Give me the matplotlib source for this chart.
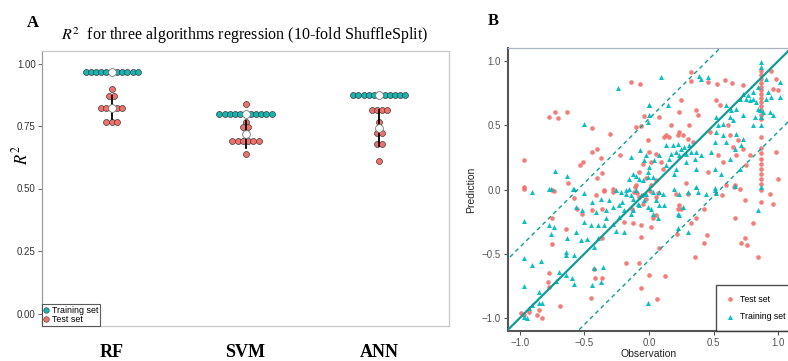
import numpy as np
import matplotlib

matplotlib.use("Agg")
import matplotlib.pyplot as plt
from matplotlib.lines import Line2D

plt.rcParams["font.family"] = ["Liberation Sans", "DejaVu Sans"]
plt.rcParams["mathtext.fontset"] = "stix"

# ---- panel A: R^2 per fold (dot plot) ----
algorithms = ["RF", "SVM", "ANN"]
rf_train = [0.965, 0.965, 0.965, 0.965, 0.965, 0.965, 0.965, 0.965, 0.965, 0.965, 0.965]
rf_test = [0.90, 0.87, 0.87, 0.824, 0.824, 0.824, 0.824, 0.824, 0.766, 0.766, 0.766]
svm_train = [0.797, 0.797, 0.797, 0.797, 0.797, 0.797, 0.797, 0.797, 0.797, 0.797, 0.797]
svm_test = [0.84, 0.766, 0.746, 0.746, 0.69, 0.69, 0.69, 0.69, 0.69, 0.69, 0.64]
ann_train = [0.874, 0.874, 0.874, 0.874, 0.874, 0.874, 0.874, 0.874, 0.874, 0.874, 0.874]
ann_test = [0.813, 0.813, 0.813, 0.813, 0.766, 0.724, 0.724, 0.677, 0.677, 0.609]
r2_ticks = [0.0, 0.25, 0.5, 0.75, 1.0]

# ---- panel B: observation vs prediction ----
test_points = [
    (-0.14, 0.835), (-0.068, 0.817), (-0.773, 0.563), (-0.727, 0.60), (-0.70, 0.556),
    (-0.631, 0.60), (-0.437, 0.478), (-0.303, 0.429), (-0.037, 0.571), (-0.10, 0.486),
    (-0.062, 0.491), (-0.967, 0.228), (-0.437, 0.292), (-0.404, 0.318), (-0.373, 0.248),
    (-0.223, 0.266), (-0.507, 0.215), (-0.535, 0.189), (-0.36, 0.129), (-0.404, 0.091),
    (-0.623, 0.054), (-0.967, 0.016), (-0.747, -0.005), (-0.347, 0.0), (-0.282, 0.003),
    (-0.075, 0.137), (-0.024, 0.093), (-0.101, 0.034), (0.015, 0.215), (-0.05, 0.202),
    (0.321, 0.912), (0.326, 0.843), (0.455, 0.835), (0.525, 0.817), (0.584, 0.848),
    (0.644, 0.827), (0.726, 0.809), (0.946, 0.925), (0.985, 0.86), (0.959, 0.783),
    (0.998, 0.77), (0.546, 0.654), (0.52, 0.693), (0.248, 0.693), (0.08, 0.563),
    (0.235, 0.60), (0.365, 0.615), (0.378, 0.576), (0.171, 0.499), (0.313, 0.499),
    (0.235, 0.447), (0.132, 0.426), (0.158, 0.408), (0.119, 0.408), (0.223, 0.426),
    (0.261, 0.421), (0.30, 0.395), (0.339, 0.37), (0.468, 0.447), (0.61, 0.499),
    (0.623, 0.421), (0.688, 0.383), (0.649, 0.331), (0.726, 0.318), (0.533, 0.266),
    (0.571, 0.215), (0.675, 0.266), (0.778, 0.266), (0.752, 0.189), (0.455, 0.137),
    (0.662, 0.034), (0.597, 0.034), (0.985, 0.292), (0.998, 0.085), (-0.01, 0.383),
    (0.003, 0.292), (0.055, 0.279), (0.093, 0.215), (0.106, 0.163), (0.055, 0.072),
    (0.287, 0.047), (0.016, 0.034),
    (0.862, 0.92), (0.862, 0.89), (0.862, 0.86), (0.862, 0.83), (0.862, 0.80),
    (0.862, 0.77), (0.862, 0.74), (0.862, 0.71), (0.862, 0.68), (0.862, 0.65),
    (0.862, 0.62), (0.862, 0.58), (0.862, 0.55), (0.862, 0.41), (0.862, 0.32),
    (0.862, 0.28), (0.862, 0.24), (0.862, 0.20), (0.862, 0.16), (0.862, 0.12),
    (0.862, 0.08), (0.862, 0.04), (0.862, 0.0),
    (-0.967, 0.007), (-0.734, -0.014), (-0.411, -0.039), (-0.347, -0.014), (-0.579, -0.065),
    (-0.553, -0.148), (-0.52, -0.194), (-0.437, -0.161), (-0.36, -0.153), (-0.282, -0.019),
    (-0.114, -0.019), (-0.075, -0.058), (-0.05, -0.109), (-0.132, -0.148), (-0.752, -0.218),
    (-0.639, -0.308), (-0.192, -0.251), (-0.127, -0.264), (-0.062, -0.277), (-0.062, -0.368),
    (-0.747, -0.424), (-0.36, -0.38), (-0.179, -0.574), (-0.08, -0.574), (-0.424, -0.618),
    (-0.416, -0.69), (-0.36, -0.685), (-0.773, -0.652), (-0.778, -0.722), (-0.773, -0.755),
    (-0.45, -0.84), (-0.688, -0.902), (-0.062, -0.763), (-0.993, -0.957), (-0.967, -0.975),
    (-0.928, -0.949), (-0.851, -0.936), (-0.864, -0.975), (-0.825, -1.0), (-0.09, -0.03),
    (-0.05, -0.04), (-0.02, -0.07), (-0.11, 0.02), (0.01, -0.01),
    (0.067, -0.024), (0.055, -0.058), (0.21, -0.032), (0.30, -0.032), (0.235, -0.122),
    (0.222, -0.148), (0.248, -0.148), (0.055, -0.20), (0.016, -0.29), (0.029, -0.225),
    (0.365, -0.225), (0.326, -0.264), (0.429, -0.148), (0.566, -0.045), (0.662, -0.225),
    (0.739, -0.083), (0.804, -0.264), (0.868, -0.096), (0.933, -0.032), (0.959, -0.114),
    (0.215, -0.349), (0.447, -0.355), (0.429, -0.419), (0.744, -0.38), (0.713, -0.419),
    (0.757, -0.432), (0.08, -0.458), (0.352, -0.528), (0.843, -0.523), (0.003, -0.665),
    (0.124, -0.67), (0.06, -0.851), (0.654, 0.02), (0.70, 0.007),
]
train_points = [
    (-0.236, 0.79), (-0.502, 0.507), (0.002, 0.66), (0.002, 0.58), (-0.727, 0.142),
    (-0.631, 0.103), (-0.584, 0.003), (-0.14, 0.253), (-0.068, 0.305), (-0.024, 0.266),
    (-0.037, 0.227), (-0.127, 0.124), (-0.101, 0.103), (-0.153, 0.085), (-0.075, 0.085),
    (-0.05, 0.072), (-0.011, 0.098), (0.002, 0.176), (0.002, 0.008), (-0.773, 0.003),
    (-0.153, 0.003),
    (0.093, 0.874), (0.39, 0.886), (0.403, 0.86), (0.455, 0.874), (0.868, 0.99),
    (0.868, 0.951), (1.01, 0.835), (1.01, 0.718), (0.907, 0.861), (0.843, 0.796),
    (0.804, 0.757), (0.765, 0.731), (0.726, 0.744), (0.70, 0.706), (0.752, 0.706),
    (0.778, 0.693), (0.804, 0.706), (0.83, 0.68), (0.92, 0.757), (0.946, 0.718),
    (0.907, 0.706), (0.843, 0.628), (0.881, 0.602), (0.933, 0.602), (0.959, 0.576),
    (0.817, 0.563), (0.868, 0.499), (0.726, 0.576), (0.675, 0.628), (0.597, 0.654),
    (0.636, 0.615), (0.623, 0.563), (0.649, 0.537), (0.571, 0.511), (0.52, 0.563),
    (0.533, 0.499), (0.52, 0.447), (0.571, 0.421), (0.597, 0.37), (0.675, 0.434),
    (0.726, 0.395), (0.713, 0.344), (0.662, 0.318), (0.507, 0.37), (0.481, 0.292),
    (0.623, 0.24), (0.804, 0.499), (0.003, 0.654), (-0.01, 0.525), (0.145, 0.654),
    (0.132, 0.344), (0.184, 0.344), (0.222, 0.357), (0.248, 0.318), (0.274, 0.331),
    (0.313, 0.344), (0.326, 0.292), (0.287, 0.279), (0.235, 0.266), (0.21, 0.292),
    (0.171, 0.279), (0.365, 0.292), (0.403, 0.266), (0.352, 0.24), (0.158, 0.24),
    (0.08, 0.266), (0.042, 0.228), (0.132, 0.189), (0.21, 0.163), (0.287, 0.215),
    (0.365, 0.163), (-0.01, 0.137), (0.029, 0.098), (0.197, 0.124), (0.507, 0.163),
    (0.558, 0.124), (0.70, 0.163), (0.36, 0.021), (0.507, 0.008), (0.868, 0.021),
    (0.86, 0.62), (0.865, 0.56),
    (-0.902, -0.019), (-0.76, 0.002), (-0.579, 0.002), (-0.502, -0.024), (-0.437, -0.096),
    (-0.566, -0.135), (-0.515, -0.161), (-0.411, -0.174), (-0.334, -0.161), (-0.282, -0.135),
    (-0.967, -0.246), (-0.773, -0.277), (-0.734, -0.29), (-0.76, -0.347), (-0.631, -0.38),
    (-0.566, -0.329), (-0.502, -0.251), (-0.45, -0.277), (-0.398, -0.277), (-0.347, -0.277),
    (-0.334, -0.225), (-0.282, -0.272), (-0.23, -0.212), (-0.192, -0.161), (-0.14, -0.187),
    (-0.127, -0.07), (-0.088, -0.109), (-0.192, -0.329), (-0.256, -0.324), (-0.398, -0.375),
    (-0.476, -0.385), (-0.527, -0.393), (-0.639, -0.484), (-0.639, -0.51), (-0.579, -0.51),
    (-0.424, -0.445), (-0.967, -0.535), (-0.907, -0.587), (-0.838, -0.556), (-0.696, -0.644),
    (-0.639, -0.665), (-0.597, -0.69), (-0.579, -0.735), (-0.721, -0.709), (-0.424, -0.613),
    (-0.354, -0.60), (-0.442, -0.742), (-0.373, -0.716), (-0.967, -0.748), (-0.851, -0.794),
    (-0.825, -0.884), (-0.851, -0.884), (-0.902, -0.897), (-0.928, -0.923), (-0.967, -0.988),
    (-0.941, -1.0), (-0.005, -0.884), (-0.179, -0.006), (-0.256, -0.006), (-0.218, -0.019),
    (-0.179, -0.032), (-0.14, -0.045), (-0.101, -0.006), (-0.062, -0.045), (-0.024, -0.032),
    (-0.037, -0.083), (-0.075, -0.122), (-0.127, -0.161), (-0.205, -0.096), (-0.23, -0.122),
    (-0.308, -0.083), (-0.372, -0.07),
    (0.029, -0.019), (0.08, -0.019), (0.106, -0.032), (0.197, 0.007), (0.235, -0.032),
    (0.30, -0.019), (0.365, 0.02), (0.378, -0.019), (0.437, -0.032), (0.507, -0.006),
    (0.52, -0.024), (0.662, 0.025), (-0.01, -0.135), (0.016, -0.148), (0.08, -0.122),
    (0.119, -0.122), (0.055, -0.083), (0.029, -0.187), (0.067, -0.225), (0.261, -0.135),
    (0.222, -0.187), (0.235, -0.20), (0.228, -0.303), (0.30, -0.329), (0.843, -0.161),
]
band = 0.55
axis_ticks = [-1.0, -0.5, 0.0, 0.5, 1.0]

TEAL = "#17b5b0"
RED = "#f2706a"
LINE = "#0e9d97"
SERIF = ["Liberation Serif", "DejaVu Serif"]


def dot_positions(center, values, step):
    values = np.asarray(values)
    xs = np.empty(len(values))
    for v in np.unique(values):
        idx = np.where(values == v)[0]
        xs[idx] = center + (np.arange(len(idx)) - (len(idx) - 1) / 2) * step
    return xs, values


fig = plt.figure(figsize=(7.88, 3.61), dpi=100)

# ---------------- Panel A ----------------
axA = fig.add_axes([42 / 788, 35 / 361, 407 / 788, 275 / 361])
groups = [(rf_train, rf_test), (svm_train, svm_test), (ann_train, ann_test)]
step = 0.039
for i, (train, test) in enumerate(groups, start=1):
    for vals, color in ((test, RED), (train, TEAL)):
        xs, ys = dot_positions(i, vals, step)
        axA.plot(xs, ys, "o", ms=4.3, mfc=color, mec="#3a3a3a", mew=0.5,
                 ls="none", zorder=3)
        mean = np.mean(vals)
        sd = np.std(vals, ddof=1)
        if sd > 0:
            axA.plot([i, i], [mean - sd, mean + sd], color="black", lw=1.3, zorder=4)
        axA.plot(i, mean, "o", ms=5.6, mfc="white", mec="#777777", mew=0.6, zorder=5)

axA.set_xlim(0.48, 3.52)
axA.set_ylim(-0.05, 1.05)
axA.set_yticks(r2_ticks)
axA.set_yticklabels([f"{t:.2f}" for t in r2_ticks], fontsize=7, color="#333333")
axA.set_xticks([1, 2, 3])
axA.set_xticklabels(algorithms, fontsize=13, fontweight="bold", family=SERIF)
axA.tick_params(axis="x", length=0, pad=13)
axA.tick_params(axis="y", length=3, width=0.6, color="#555555", pad=1.5)
for side, spine in axA.spines.items():
    spine.set_color("#c8c8c8")
    spine.set_linewidth(0.9)
axA.spines["left"].set_color("#9a9a9a")

legA = [
    Line2D([], [], marker="o", ls="none", ms=4, mfc=TEAL, mec="#3a3a3a", mew=0.4,
           label="Training set"),
    Line2D([], [], marker="o", ls="none", ms=4, mfc=RED, mec="#3a3a3a", mew=0.4,
           label="Test set"),
]
lg = axA.legend(handles=legA, loc="lower left", bbox_to_anchor=(0, 0), borderaxespad=0,
                fontsize=6.4, frameon=True, fancybox=False, edgecolor="#333333",
                handlelength=0.6, handletextpad=0.3, labelspacing=0.05, borderpad=0.2)
lg.get_frame().set_linewidth(0.8)

fig.text(245 / 788, 1 - 36 / 361,
         r"$R^2$  for three algorithms regression (10-fold ShuffleSplit)",
         ha="center", va="center", fontsize=11.5, family=SERIF)
fig.text(20 / 788, 1 - 155 / 361, r"$R^2$", rotation=90, ha="center", va="center",
         fontsize=12)
fig.text(33 / 788, 1 - 23 / 361, "A", ha="center", va="center", fontsize=12,
         fontweight="bold", family=SERIF)
fig.text(493 / 788, 1 - 21 / 361, "B", ha="center", va="center", fontsize=12,
         fontweight="bold", family=SERIF)

# ---------------- Panel B ----------------
axB = fig.add_axes([508 / 788, 30 / 361, 282 / 788, 283 / 361])
test_obs, test_pred = np.array(test_points).T
train_obs, train_pred = np.array(train_points).T
axB.scatter(test_obs, test_pred, s=11, marker="o", color=RED, alpha=0.9,
            linewidths=0, zorder=3, label="Test set")
axB.scatter(train_obs, train_pred, s=13, marker="^", color="#00bcc0", alpha=0.95,
            linewidths=0, zorder=3, label="Training set")
ref = np.array([-1.2, 1.2])
axB.plot(ref, ref, color=LINE, lw=1.6, zorder=4)
axB.plot(ref, ref + band, color=LINE, lw=1.0, ls=(0, (3, 2.5)), zorder=4)
axB.plot(ref, ref - band, color=LINE, lw=1.0, ls=(0, (3, 2.5)), zorder=4)

axB.set_xlim(-1.09, 1.09)
axB.set_ylim(-1.1, 1.1)
axB.set_xticks(axis_ticks)
axB.set_yticks(axis_ticks)
axB.set_xticklabels([f"{t:.1f}".replace("-", "\u2212") for t in axis_ticks],
                    fontsize=7, color="#555555")
axB.set_yticklabels([f"{t:.1f}".replace("-", "\u2212") for t in axis_ticks],
                    fontsize=7, color="#555555")
axB.tick_params(length=3, width=0.8, color="#555555", pad=2)
axB.set_xlabel("Observation", fontsize=7.5, labelpad=1, color="#222222")
axB.set_ylabel("Prediction", fontsize=7.5, labelpad=4, color="#222222")
axB.spines["left"].set_color("#555555")
axB.spines["left"].set_linewidth(1.5)
axB.spines["bottom"].set_color("#555555")
axB.spines["bottom"].set_linewidth(1.5)
axB.spines["top"].set_color("#a9b6c2")
axB.spines["top"].set_linewidth(0.9)
axB.spines["right"].set_visible(False)

lgB = axB.legend(loc="lower left", bbox_to_anchor=(0.738, 0.0), borderaxespad=0,
                 fontsize=6.3, frameon=True, fancybox=False, edgecolor="#222222",
                 handlelength=0.9, handletextpad=0.7, labelspacing=1.0, borderpad=1.1,
                 markerscale=1.0)
lgB.get_frame().set_linewidth(1.0)

fig.savefig("out.png", dpi=100)
